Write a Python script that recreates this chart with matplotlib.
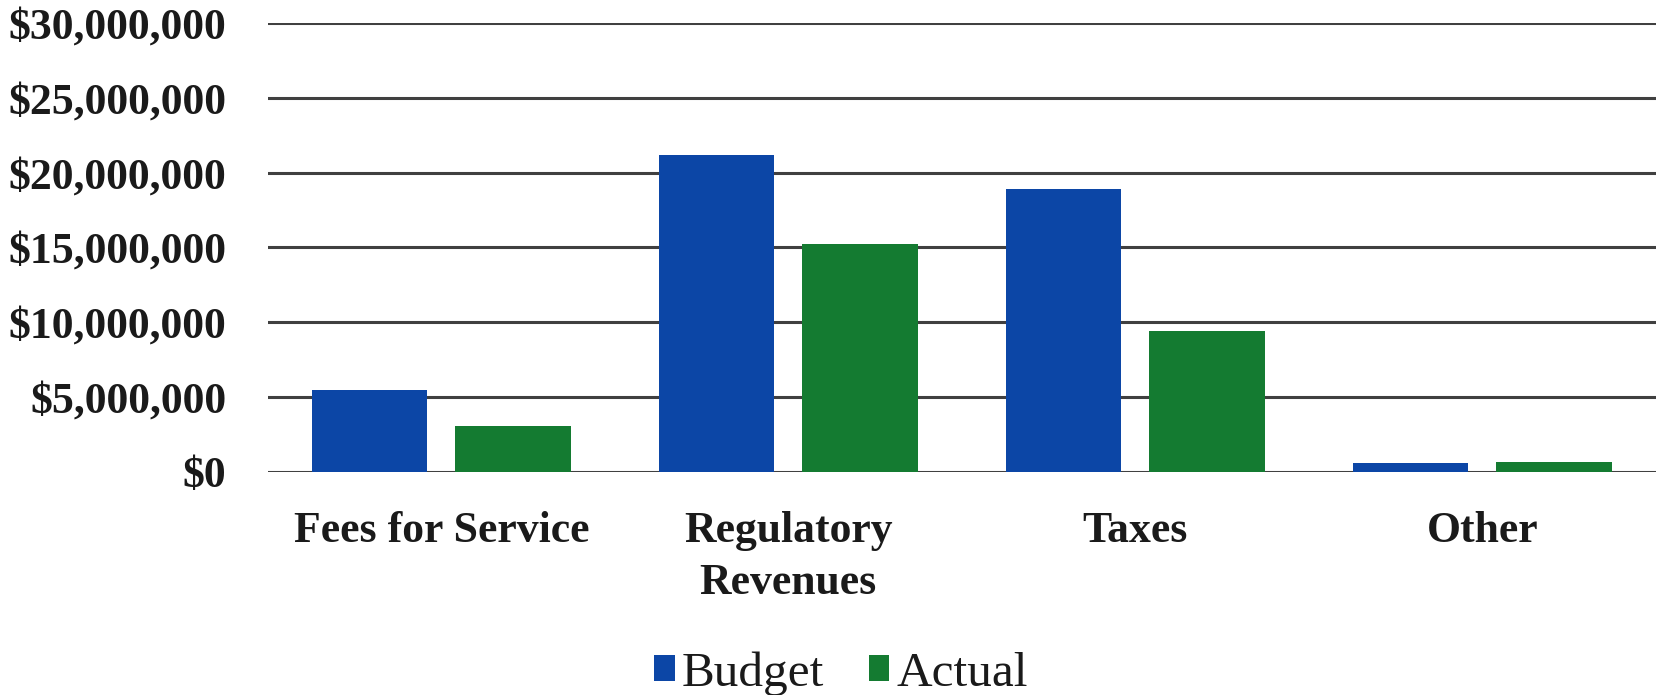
import numpy as np
import matplotlib.pyplot as plt
from matplotlib.ticker import FuncFormatter

categorias = ['Fees for Service', 'Regulatory\nRevenues', 'Taxes', 'Other']
budget = [5450000, 21200000, 18900000, 600000]
actual = [3100000, 15200000, 9400000, 650000]
ticks_y = [0, 5000000, 10000000, 15000000, 20000000, 25000000, 30000000]

azul = '#0c46a6'
verde = '#147b31'

plt.rcParams['font.family'] = ['Liberation Serif', 'DejaVu Serif']

fig = plt.figure(figsize=(16.59, 6.95), dpi=100)
ax = fig.add_axes([0.1615, 0.321, 0.8365, 0.646])

x = np.arange(len(categorias))
ancho = 0.333
sep = 0.207

ax.bar(x - sep, budget, ancho, color=azul, label='Budget', zorder=3)
ax.bar(x + sep, actual, ancho, color=verde, label='Actual', zorder=3)

ax.set_xlim(-0.5, len(categorias) - 0.5)
ax.set_ylim(0, 30000000)
ax.set_yticks(ticks_y)
ax.yaxis.set_major_formatter(FuncFormatter(lambda v, p: '${:,.0f}'.format(v)))
ax.grid(axis='y', color='#404040', linewidth=2.2, zorder=0)
ax.set_xticks(x)
ax.set_xticklabels(categorias)

for s in ax.spines.values():
    s.set_visible(False)
ax.tick_params(axis='both', length=0, labelsize=31.5, colors='#1a1a1a')
ax.tick_params(axis='y', pad=30)
ax.tick_params(axis='x', pad=28)
for t in ax.get_xticklabels():
    t.set_fontweight('bold')
    t.set_linespacing(1.38)
for t in ax.get_yticklabels():
    t.set_fontweight('bold')

fig.legend(loc='lower center', bbox_to_anchor=(0.507, -0.04), ncol=2, frameon=False,
           fontsize=35.5, handlelength=0.42, handleheight=0.42, handletextpad=0.15,
           columnspacing=0.9, labelcolor='#1a1a1a', borderpad=0.05)

fig.savefig('out.png', dpi=100)
